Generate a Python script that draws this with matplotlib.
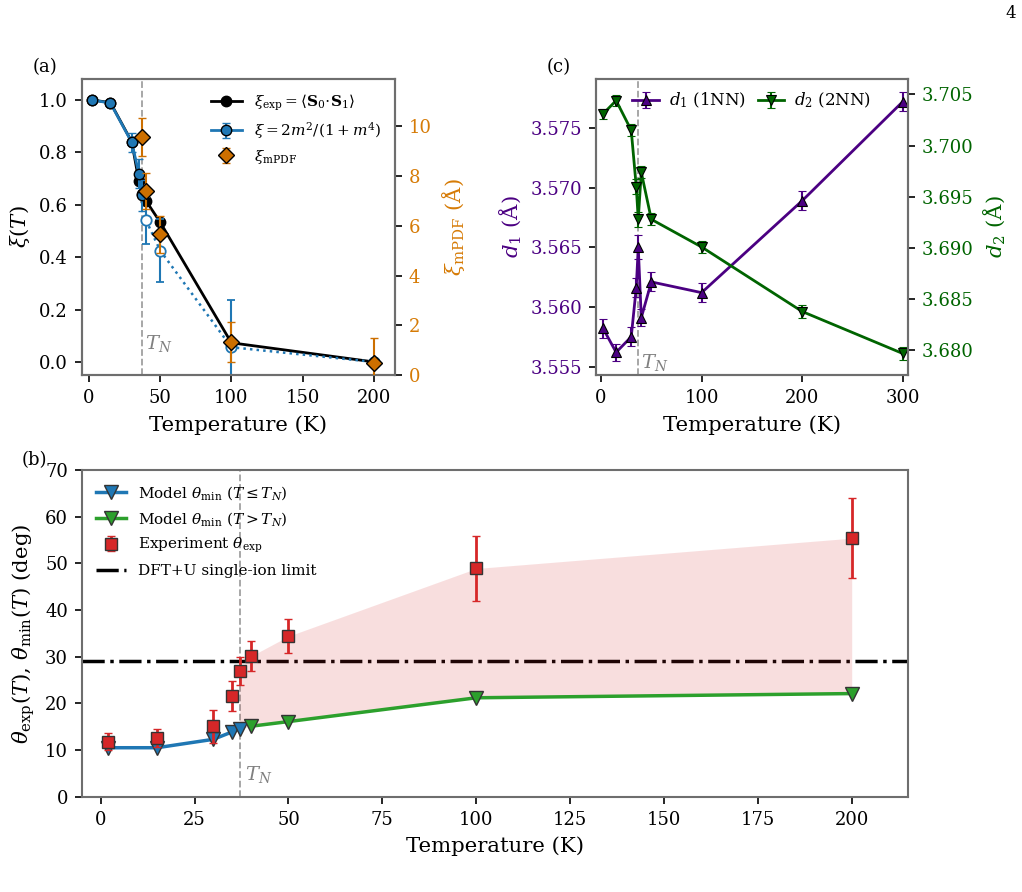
import matplotlib
matplotlib.use("Agg")
import matplotlib.pyplot as plt
import numpy as np

plt.rcParams['font.family'] = ['DejaVu Serif']
plt.rcParams['mathtext.fontset'] = 'dejavuserif'

TN = 37

# ---------------- Panel (a) data ----------------
T_a = [2, 15, 30, 35, 37, 40, 50, 100, 200]
xi_exp = [1.0, 0.99, 0.84, 0.69, 0.64, 0.615, 0.533, 0.073, 0.0]

T_m_low = [2, 15, 30, 35, 37]
xi_m_low = [1.0, 0.988, 0.838, 0.719, 0.636]
xi_m_low_err = [0.0, 0.0, 0.035, 0.055, 0.06]
T_m_high = [40, 50, 100, 200]
xi_m_high = [0.541, 0.425, 0.056, 0.0]
xi_m_high_err = [0.09, 0.12, 0.18, 0.0]

T_pdf = [37, 40, 50, 100, 200]
xi_pdf = [9.57, 7.40, 5.65, 1.34, 0.47]
xi_pdf_err = [0.77, 0.73, 0.75, 0.80, 1.0]

# ---------------- Panel (c) data ----------------
T_c = [2, 15, 30, 35, 37, 40, 50, 100, 200, 300]
d1 = [3.5582, 3.5562, 3.5575, 3.5616, 3.5650, 3.5591, 3.5621, 3.5612, 3.5689, 3.5772]
d1_err = [0.0008, 0.0007, 0.0008, 0.0008, 0.0010, 0.0007, 0.0008, 0.0008, 0.0008, 0.0008]
d2 = [3.7031, 3.7044, 3.7015, 3.6960, 3.6928, 3.6974, 3.6928, 3.6901, 3.6838, 3.6797]
d2_err = [0.0005, 0.0005, 0.0006, 0.0007, 0.0007, 0.0006, 0.0006, 0.0006, 0.0006, 0.0006]

# ---------------- Panel (b) data ----------------
T_mod_low = [2, 15, 30, 35, 37]
th_mod_low = [10.5, 10.5, 12.3, 13.9, 14.6]
T_mod_high = [40, 50, 100, 200]
th_mod_high = [15.1, 16.1, 21.2, 22.1]
T_exp = [2, 15, 30, 35, 37, 40, 50, 100, 200]
th_exp = [11.8, 12.6, 15.1, 21.5, 26.9, 30.1, 34.4, 48.9, 55.4]
th_exp_err = [1.8, 2.0, 3.5, 3.2, 3.0, 3.2, 3.6, 7.0, 8.6]
theta_dft = 29.0
T_fill = [37, 40, 50, 100, 200]
fill_low = [14.6, 15.1, 16.1, 21.2, 22.1]
fill_high = [26.9, 30.1, 34.4, 48.9, 55.4]

SPINE = '#6e6e6e'
ORANGE = '#d67b06'
ORANGE_M = '#cc6f00'
PURPLE = '#4b0082'
GREEN = '#006400'
TICKFS = 13
LABFS = 15.3


def style(ax):
    for s in ax.spines.values():
        s.set_color(SPINE)
        s.set_linewidth(1.5)
    ax.tick_params(labelsize=TICKFS, length=5, width=1.2, pad=5, direction='out')


fig = plt.figure(figsize=(10.22, 8.92), dpi=100)
axA = fig.add_axes([0.0802, 0.5796, 0.3063, 0.3318])
axC = fig.add_axes([0.5832, 0.5796, 0.3050, 0.3318])
axB = fig.add_axes([0.0802, 0.1068, 0.8083, 0.3663])

# ================= Panel (a) =================
axA.axvline(TN, color='#a0a0a0', ls='--', lw=1.3, zorder=0)
axA.plot(T_a, xi_exp, '-o', color='black', lw=2, ms=7.5, mec='black',
         label=r'$\xi_{\mathrm{exp}} = \langle \mathbf{S}_0{\cdot}\mathbf{S}_1\rangle$', zorder=2)
axA.errorbar(T_m_low, xi_m_low, yerr=xi_m_low_err, fmt='-o', color='#1f77b4', lw=2, ms=7.5,
             mec='black', mew=1, capsize=3, elinewidth=1.5,
             label=r'$\xi = 2m^2/(1+m^4)$', zorder=3)
axA.errorbar(T_m_high, xi_m_high, yerr=xi_m_high_err, fmt=':o', color='#1f77b4', lw=1.8, ms=7.5,
             mfc='white', mec='#1f77b4', mew=1.3, capsize=3, elinewidth=1.5, zorder=3)
axA.set_xlim(-5, 215)
axA.set_ylim(-0.05, 1.08)
axA.set_xticks([0, 50, 100, 150, 200])
axA.set_yticks([0.0, 0.2, 0.4, 0.6, 0.8, 1.0])
axA.set_xlabel('Temperature (K)', fontsize=LABFS, labelpad=6)
axA.set_ylabel(r'$\xi(T)$', fontsize=LABFS, labelpad=5.5)
style(axA)
axA.text(TN + 2, 0.05, r'$T_N$', color='gray', fontsize=14)

axA2 = axA.twinx()
axA2.errorbar(T_pdf, xi_pdf, yerr=xi_pdf_err, fmt='D', color=ORANGE_M, ms=8, mec='black', mew=1,
              ecolor=ORANGE_M, capsize=3, elinewidth=1.5, label=r'$\xi_{\mathrm{mPDF}}$', zorder=4)
axA2.set_ylim(0, 11.9)
axA2.set_yticks([0, 2, 4, 6, 8, 10])
style(axA2)
axA2.tick_params(axis='y', labelcolor=ORANGE)
axA2.set_ylabel(r'$\xi_{\mathrm{mPDF}}$ ($\mathrm{\AA}$)', color=ORANGE, fontsize=LABFS, labelpad=5.5)
h1, l1 = axA.get_legend_handles_labels()
h2, l2 = axA2.get_legend_handles_labels()
axA2.legend(h1 + h2, l1 + l2, loc='upper right', frameon=False, fontsize=11, labelspacing=0.45)

# ================= Panel (c) =================
axC.axvline(TN, color='#a0a0a0', ls='--', lw=1.3, zorder=0)
axC.errorbar(T_c, d1, yerr=d1_err, fmt='-^', color=PURPLE, lw=2, ms=7, mec='black', mew=0.8,
             capsize=3, elinewidth=1.5, label=r'$d_1$ (1NN)')
axC.set_xlim(-5, 305)
axC.set_ylim(3.5543, 3.5791)
axC.set_xticks([0, 100, 200, 300])
axC.set_yticks([3.555, 3.560, 3.565, 3.570, 3.575])
axC.set_xlabel('Temperature (K)', fontsize=LABFS, labelpad=6)
axC.set_ylabel(r'$d_1$ ($\mathrm{\AA}$)', color=PURPLE, fontsize=LABFS, labelpad=5.5)
style(axC)
axC.tick_params(axis='y', labelcolor=PURPLE)
axC.text(TN + 3, 3.5549, r'$T_N$', color='gray', fontsize=14)

axC2 = axC.twinx()
axC2.errorbar(T_c, d2, yerr=d2_err, fmt='-v', color=GREEN, lw=2, ms=7, mec='black', mew=0.8,
              capsize=3, elinewidth=1.5, label=r'$d_2$ (2NN)')
axC2.set_ylim(3.6776, 3.7065)
axC2.set_yticks([3.680, 3.685, 3.690, 3.695, 3.700, 3.705])
style(axC2)
axC2.tick_params(axis='y', labelcolor=GREEN)
axC2.set_ylabel(r'$d_2$ ($\mathrm{\AA}$)', color=GREEN, fontsize=LABFS, labelpad=5.5)
h1, l1 = axC.get_legend_handles_labels()
h2, l2 = axC2.get_legend_handles_labels()
axC2.legend(h1 + h2, l1 + l2, loc='upper center', ncol=2, frameon=False, fontsize=12,
            columnspacing=0.7, handlelength=1.6, handletextpad=0.6, bbox_to_anchor=(0.5, 1.01))

# ================= Panel (b) =================
axB.axvline(TN, color='#a0a0a0', ls='--', lw=1.3, zorder=0)
axB.axhline(theta_dft, color='black', ls='-.', lw=2.5, label='DFT+U single-ion limit', zorder=1)
axB.fill_between(T_fill, fill_low, fill_high, color='#d62728', alpha=0.15, lw=0, zorder=2)
axB.plot(T_mod_low, th_mod_low, '-v', color='#1f77b4', lw=2.5, ms=10, mec='#333333', mew=1,
         label=r'Model $\theta_{\mathrm{min}}$ ($T \leq T_N$)', zorder=3)
axB.plot(T_mod_high, th_mod_high, '-v', color='#2ca02c', lw=2.5, ms=10, mec='#333333', mew=1,
         label=r'Model $\theta_{\mathrm{min}}$ ($T > T_N$)', zorder=3)
axB.errorbar(T_exp, th_exp, yerr=th_exp_err, fmt='s', color='#d62728', ms=8, mec='#333333', mew=1,
             ecolor='#d62728', capsize=3, elinewidth=2, label=r'Experiment $\theta_{\mathrm{exp}}$', zorder=4)
axB.set_xlim(-5, 215)
axB.set_ylim(0, 70)
axB.set_xticks([0, 25, 50, 75, 100, 125, 150, 175, 200])
axB.set_yticks([0, 10, 20, 30, 40, 50, 60, 70])
axB.set_xlabel('Temperature (K)', fontsize=LABFS, labelpad=5.5)
axB.set_ylabel(r'$\theta_{\mathrm{exp}}(T)$, $\theta_{\mathrm{min}}(T)$ (deg)', fontsize=LABFS, labelpad=5.5)
style(axB)
axB.text(TN + 1.5, 3.5, r'$T_N$', color='gray', fontsize=14)
hB, lB = axB.get_legend_handles_labels()
order = [1, 2, 3, 0]
axB.legend([hB[i] for i in order], [lB[i] for i in order], loc='upper left', frameon=False,
           fontsize=11, labelspacing=0.55)

# panel labels
fig.text(0.032, 0.925, '(a)', fontsize=13, va='center')
fig.text(0.535, 0.925, '(c)', fontsize=13, va='center')
fig.text(0.021, 0.484, '(b)', fontsize=13, va='center')
fig.text(0.989, 0.985, '4', ha='center', va='center', fontsize=12)

fig.savefig('out.png', dpi=100)
